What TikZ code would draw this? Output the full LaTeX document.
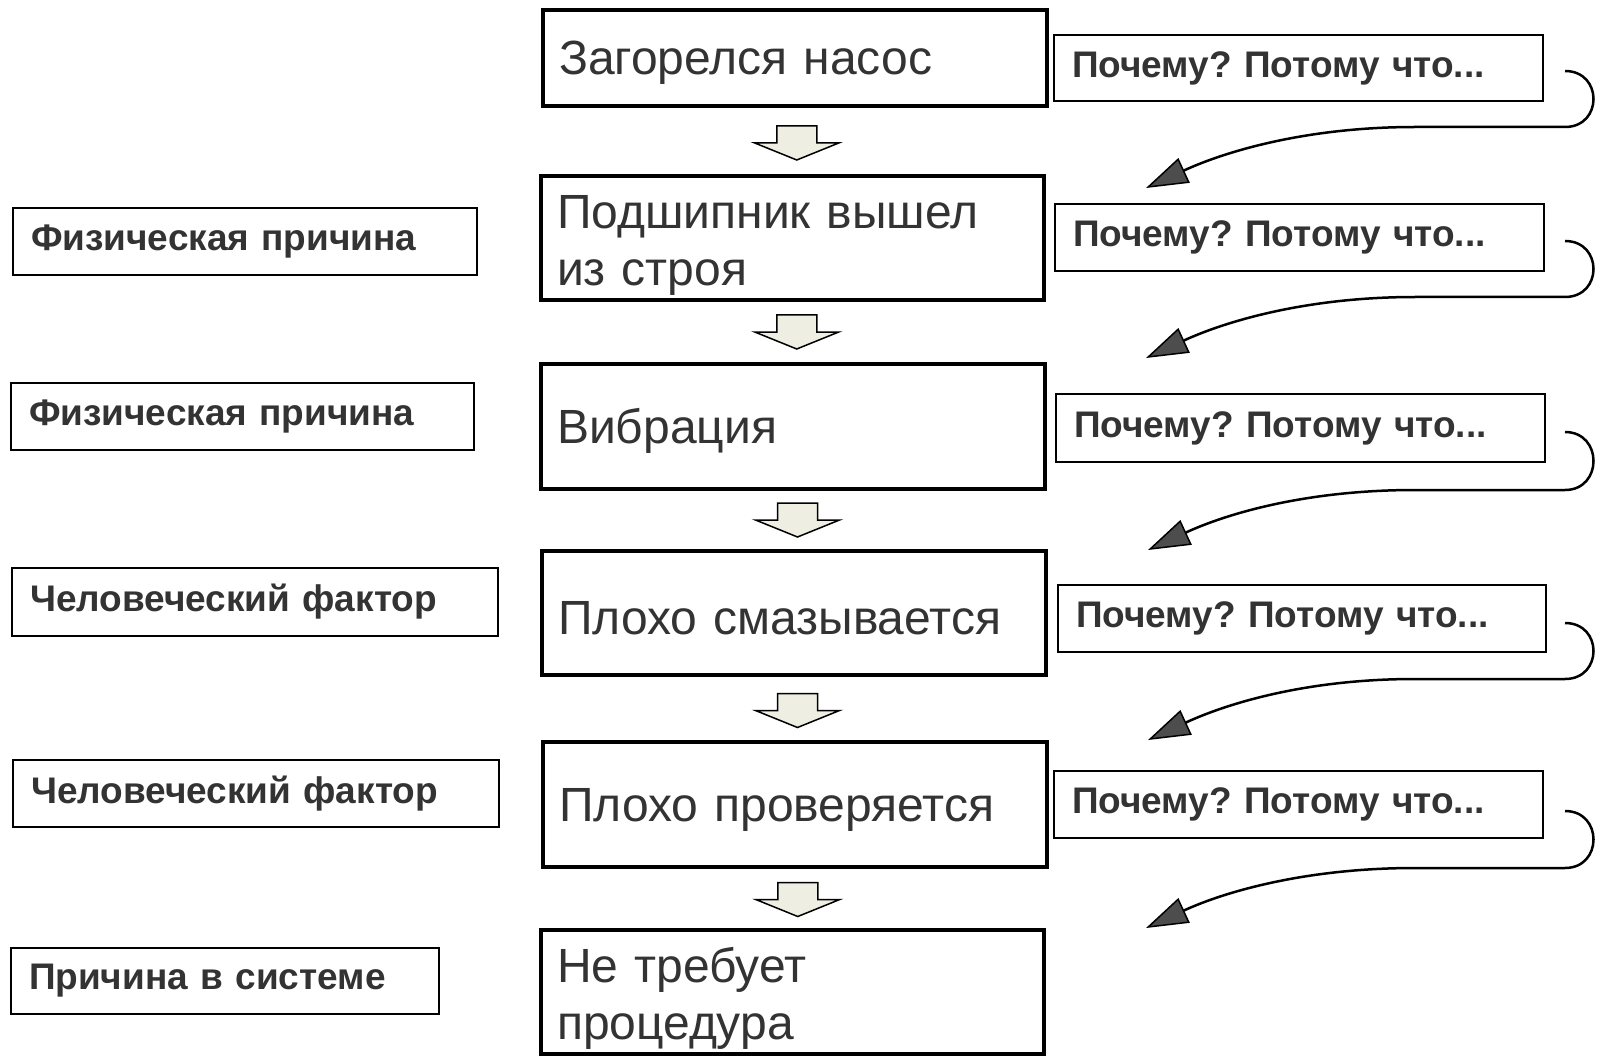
\documentclass[tikz,border=0pt]{standalone}
\usepackage{fontspec}
\setmainfont{Liberation Sans}
\usetikzlibrary{arrows.meta,calc}
\frenchspacing
\definecolor{txt}{HTML}{333333}
\definecolor{beige}{HTML}{EEEEE2}
\definecolor{headgray}{HTML}{4D4D4D}
\newcommand{\topstrut}{\rule{0pt}{48pt}}
\newcommand{\lowstrut}{\rule{0pt}{43pt}}
\tikzset{
  mainbox/.style={draw=black, line width=4pt, fill=white, text=txt,
    font=\fontsize{48}{57}\selectfont, align=left, inner xsep=16pt, inner ysep=0pt},
  whybox/.style={draw=black, line width=1.5pt, text=txt,
    font=\fontsize{37}{44}\selectfont\bfseries, align=left, inner xsep=18pt, inner ysep=0pt},
  sidebox/.style={whybox},
  whyloop/.style={line width=2.5pt, -{Triangle[length=42pt,width=27pt,fill=headgray,line width=1.5pt]}},
  barrow/.pic={\draw[fill=beige, line width=1.5pt, line join=miter]
    (-20,-17) -- (20,-17) -- (20,0) -- (42,0) -- (0,17) -- (-42,0) -- (-20,0) -- cycle;}
}
\begin{document}
\begin{tikzpicture}[x=1pt,y=-1pt]
\useasboundingbox (0,0) rectangle (1597,1056);
% main chain
\node[mainbox, text width=472pt, minimum height=96pt] (m1) at (795,58) {\lowstrut Загорелся насос};
\node[mainbox, text width=471pt, minimum height=124pt] (m2) at (792.5,238) {\topstrut Подшипник вышел\\из строя};
\node[mainbox, text width=472pt, minimum height=125pt] (m3) at (793,426.5) {\lowstrut Вибрация};
\node[mainbox, text width=472pt, minimum height=124pt] (m4) at (794,613) {\lowstrut Плохо смазывается};
\node[mainbox, text width=472pt, minimum height=125pt] (m5) at (795,804.5) {\lowstrut Плохо проверяется};
\node[mainbox, text width=471pt, minimum height=124pt] (m6) at (792.5,992) {\topstrut Не требует\\процедура};
% why boxes
\node[whybox, text width=453pt, minimum height=66pt] (w1) at (1298.5,68) {Почему? Потому что...};
\node[whybox, text width=453pt, minimum height=67pt] (w2) at (1299.5,237.5) {Почему? Потому что...};
\node[whybox, text width=453pt, minimum height=68pt] (w3) at (1300.5,428) {Почему? Потому что...};
\node[whybox, text width=452pt, minimum height=67pt] (w4) at (1302,618.5) {Почему? Потому что...};
\node[whybox, text width=453pt, minimum height=67pt] (w5) at (1298.5,804.5) {Почему? Потому что...};
% side boxes
\node[sidebox, text width=428pt, minimum height=67pt] (s1) at (245,241.5) {Физическая причина};
\node[sidebox, text width=427pt, minimum height=67pt] (s2) at (242.5,416.5) {Физическая причина};
\node[sidebox, text width=450pt, minimum height=68pt] (s3) at (255,602) {Человеческий фактор};
\node[sidebox, text width=450pt, minimum height=67pt] (s4) at (256,793.5) {Человеческий фактор};
\node[sidebox, text width=392pt, minimum height=66pt] (s5) at (225,981) {Причина в системе};
% block arrows between main boxes
\pic at ($(m1.south)!0.5!(m2.north)+(3,2)$) {barrow};
\pic at ($(m2.south)!0.5!(m3.north)+(4,0)$) {barrow};
\pic at ($(m3.south)!0.5!(m4.north)+(4,0)$) {barrow};
\pic at ($(m4.south)!0.5!(m5.north)+(3,2)$) {barrow};
\pic at ($(m5.south)!0.5!(m6.north)+(4,1)$) {barrow};
% curved why-arrows
\foreach \s/\e/\tx/\ty [count=\i] in {71/127/1146/188, 241/297/1146/358, 432/490/1148/550, 623/679/1148/740, 811/868/1146/928}{
  \coordinate (a\i) at (1565,\s);
  \coordinate (b\i) at (1565,\e);
  \coordinate (t\i) at (\tx,\ty);
  \draw[whyloop] (a\i) .. controls +(38,0) and +(38,0) .. (b\i) -- ++(-150,0)
     .. controls +(-110,0) and +(78,-36) .. (t\i);
}
\end{tikzpicture}
\end{document}
